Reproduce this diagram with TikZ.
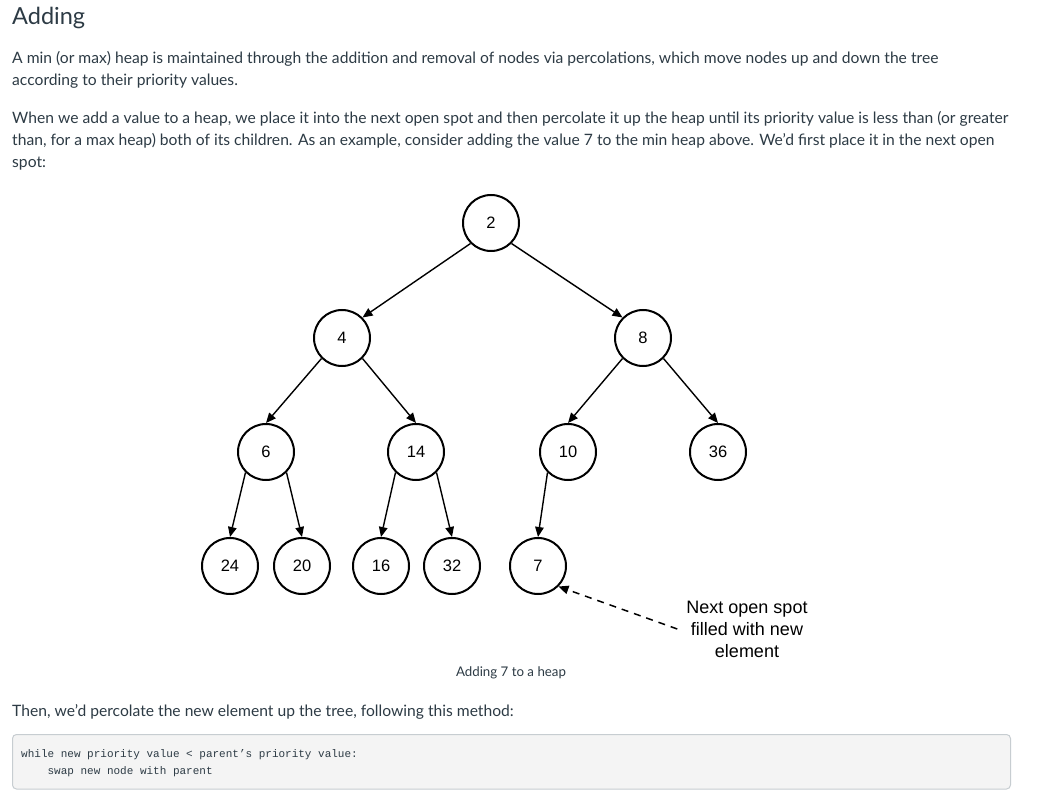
\documentclass[tikz,border=0pt]{standalone}
\usepackage{fontspec}
\setmainfont{Lato}
\newfontfamily\arialf{Liberation Sans}
\newfontfamily\monof{Liberation Mono}
\usetikzlibrary{arrows.meta}
\definecolor{txt}{HTML}{2D3B45}
\definecolor{codebg}{HTML}{F4F4F4}
\definecolor{codeborder}{HTML}{C7CDD1}
\tikzset{
  heapnode/.style={circle, draw=black, line width=2pt, minimum size=56pt, inner sep=0pt,
    font=\arialf\fontsize{16.5}{18}\selectfont},
  tedge/.style={line width=1.4pt, -{Triangle[length=10pt,width=8.5pt]}},
  dasharrow/.style={line width=1.5pt, dash pattern=on 7pt off 6pt, -{Triangle[length=10pt,width=8.5pt]}},
  bodytext/.style={anchor=base west, inner sep=0pt, text=txt, font=\fontsize{15.65}{18}\selectfont},
  codetext/.style={anchor=base west, inner sep=0pt, text=txt, font=\monof\fontsize{11}{13}\selectfont},
}
\begin{document}
\begin{tikzpicture}[x=1pt,y=-1pt]
\useasboundingbox (0,0) rectangle (1044,799);
\fill[white] (0,0) rectangle (1044,799);

% text
\node[anchor=base west, inner sep=0pt, text=txt, font=\fontsize{23.5}{26}\selectfont] (title) at (12,24.5) {Adding};
\node[bodytext] (p1a) at (12,64) {A min (or max) heap is maintained through the addition and removal of nodes via percolations, which move nodes up and down the tree};
\node[bodytext] (p1b) at (12,86) {according to their priority values.};
\node[bodytext] (p2a) at (12,124) {When we add a value to a heap, we place it into the next open spot and then percolate it up the heap until its priority value is less than (or greater};
\node[bodytext] (p2b) at (12,146) {than, for a max heap) both of its children. As an example, consider adding the value 7 to the min heap above. We’d first place it in the next open};
\node[bodytext] (p2c) at (12,168) {spot:};

% tree
\node[heapnode] (n2) at (491,223) {2};
\node[heapnode] (n4) at (342,338) {4};
\node[heapnode] (n8) at (643,338) {8};
\node[heapnode] (n6) at (266,452) {6};
\node[heapnode] (n14) at (416,452) {14};
\node[heapnode] (n10) at (568,452) {10};
\node[heapnode] (n36) at (718,452) {36};
\node[heapnode] (n24) at (230,566) {24};
\node[heapnode] (n20) at (302,566) {20};
\node[heapnode] (n16) at (381,566) {16};
\node[heapnode] (n32) at (452,566) {32};
\node[heapnode] (n7) at (538,566) {7};

\draw[tedge] (n2.south west) -- (n4.north east);
\draw[tedge] (n2.south east) -- (n8.north west);
\draw[tedge] (n4.south west) -- (n6.north);
\draw[tedge] (n4.south east) -- (n14.north);
\draw[tedge] (n8.south west) -- (n10.north);
\draw[tedge] (n8.south east) -- (n36.north);
\draw[tedge] (n6.south west) -- (n24.north);
\draw[tedge] (n6.south east) -- (n20.north);
\draw[tedge] (n14.south west) -- (n16.north);
\draw[tedge] (n14.south east) -- (n32.north);
\draw[tedge] (n10.south west) -- (n7.north);

\node[align=center, inner sep=9pt, font=\arialf\fontsize{18}{22}\selectfont] (lbl) at (747,629) {Next open spot\\filled with new\\element};
\draw[dasharrow] (lbl.west) -- (n7.south east);

\node[anchor=base, inner sep=0pt, text=txt, font=\fontsize{13.3}{15}\selectfont] (cap) at (511,676) {Adding 7 to a heap};

\node[bodytext] (p3) at (12,716) {Then, we’d percolate the new element up the tree, following this method:};

% code box
\draw[fill=codebg, draw=codeborder, line width=1pt, rounded corners=4pt] (12.5,734.5) rectangle (1010.5,789);
\node[codetext] (c1) at (21,757) {while new priority value < parent’s priority value:};
\node[codetext] (c2) at (47.4,774) {swap new node with parent};
\end{tikzpicture}
\end{document}
